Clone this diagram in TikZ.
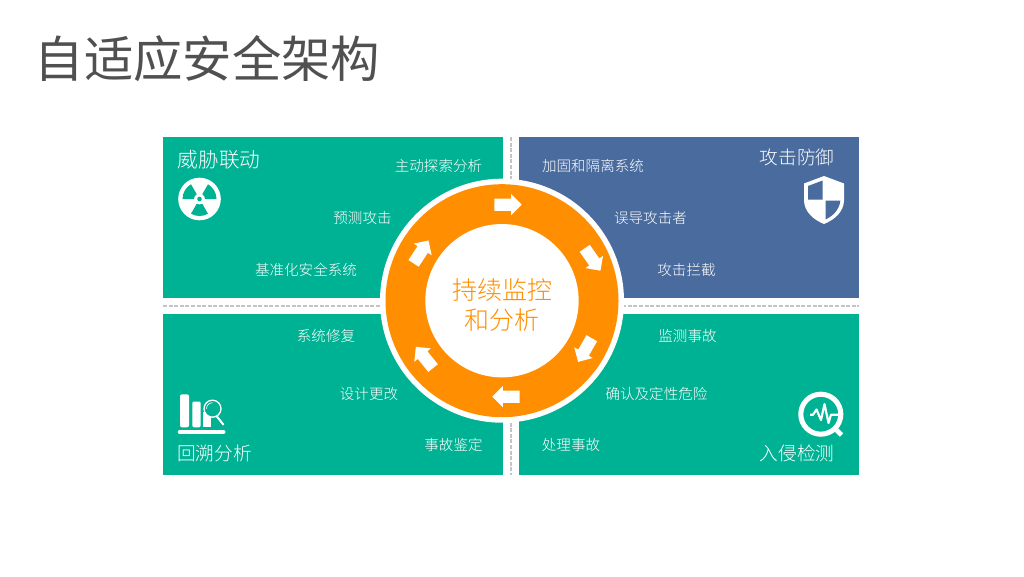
\documentclass[tikz,border=0pt]{standalone}
\usepackage{fontspec}
\usepackage{xcolor,tikz}
\usetikzlibrary{shapes.arrows}
\setmainfont{Noto Sans CJK SC Light}
\newfontfamily\titlefont{Noto Sans CJK SC}
\definecolor{mint}{HTML}{00B294}
\definecolor{slate}{HTML}{4A6B9D}
\definecolor{amber}{HTML}{FF8E00}
\definecolor{ink}{HTML}{505050}
\definecolor{rule}{HTML}{C4C4C4}
\begin{document}
\begin{tikzpicture}[x=0.75pt,y=-0.75pt,
panel/.style={minimum width=255pt,minimum height=120.75pt,inner sep=0pt},
head/.style={text=white,font=\fontsize{14}{16}\selectfont,inner sep=0pt},
item/.style={text=white,font=\fontsize{10.9}{13}\selectfont,inner sep=0pt},
flow/.style={single arrow,fill=white,inner xsep=0pt,inner ysep=4.4pt,minimum height=20.5pt,
single arrow head extend=3.4pt,single arrow tip angle=90,single arrow head indent=0pt},
sep/.style={draw=rule,line width=0.9pt,dash pattern=on 3pt off 1.2pt}]
\useasboundingbox (0,0) rectangle (1024,576);
\fill[white] (0,0) rectangle (1024,576);
\node[text=ink,font=\titlefont\fontsize{37}{40}\selectfont,inner sep=0pt] (title) at (207.5,58.5) {自适应安全架构};
% four panels
\node[panel,fill=mint] (threat) at (333,217.5) {};
\node[panel,fill=slate] (defend) at (689,217.5) {};
\node[panel,fill=mint] (retro) at (333,394.5) {};
\node[panel,fill=mint] (detect) at (688.5,394.5) {};
% dashed cross
\coordinate (west) at (163,306);
\coordinate (east) at (859,306);
\coordinate (north) at (511,137);
\coordinate (south) at (511,475);
\draw[sep] (west)--(east);
\draw[sep] (north)--(south);
% ring
\node[circle,fill=white,minimum size=183pt,inner sep=0pt] (halo) at (502,300.7) {};
\node[circle,fill=amber,minimum size=174.75pt,inner sep=0pt] (ring) at (502,300.7) {};
\node[circle,fill=white,minimum size=115pt,inner sep=0pt] (hub) at (502,300.7) {};
\node[text=amber,align=center,inner sep=0pt,font=\fontsize{18.75}{23}\selectfont] (hubtext) at (502,305) {持续监控\\和分析};
\node[flow] (flowa) at (505,204.7) {};
\node[flow,rotate=-55] (flowb) at (590.8,257) {};
\node[flow,rotate=-120] (flowc) at (586.5,347.4) {};
\node[flow,rotate=180] (flowd) at (509,396.7) {};
\node[flow,rotate=129] (flowe) at (426.4,359.8) {};
\node[flow,rotate=57] (flowf) at (419.4,254.5) {};
% labels
\node[head,font=\fontsize{15.5}{18}\selectfont] (threathead) at (219,159.5) {威胁联动};
\node[item] (threata) at (438.5,165.5) {主动探索分析};
\node[item] (threatb) at (362.5,217.5) {预测攻击};
\node[item] (threatc) at (306,269.5) {基准化安全系统};
\node[head] (defendhead) at (797,157.5) {攻击防御};
\node[item] (defenda) at (593,165.5) {加固和隔离系统};
\node[item] (defendb) at (650.5,217.5) {误导攻击者};
\node[item] (defendc) at (686.5,269.5) {攻击拦截};
\node[head] (retrohead) at (214.5,453) {回溯分析};
\node[item] (retroa) at (326,335.5) {系统修复};
\node[item] (retrob) at (369,393.5) {设计更改};
\node[item] (retroc) at (453.5,444.5) {事故鉴定};
\node[head] (detecthead) at (797,453) {入侵检测};
\node[item] (detecta) at (687.5,335.5) {监测事故};
\node[item] (detectb) at (656.5,394) {确认及定性危险};
\node[item] (detectc) at (571,444.5) {处理事故};
% radiation icon
\begin{scope}[shift={(199.5,199)}]
\fill[white] (0,0) circle (21.3);
\fill[mint] (-60:5.5) -- (-60:17) arc (-60:0:17) -- (0:5.5) arc (0:-60:5.5) -- cycle;
\fill[mint] (-180:5.5) -- (-180:17) arc (-180:-120:17) -- (-120:5.5) arc (-120:-180:5.5) -- cycle;
\fill[mint] (60:5.5) -- (60:17) arc (60:120:17) -- (120:5.5) arc (120:60:5.5) -- cycle;
\fill[mint] (0,0) circle (2.3);
\end{scope}
% shield icon
\fill[white] (824,176)--(844,183.5)--(844,200) .. controls (844,212) and (834,220) .. (824,224)
.. controls (814,220) and (804,212) .. (804,200)--(804,183.5)--cycle;
\fill[slate] (822.7,180.5)--(808,186)--(808,199.5)--(822.7,199.5)--cycle;
\fill[slate] (825.5,200.7)--(840.3,200.7) .. controls (839.5,210) and (832,216.5) .. (825.5,219.5)--cycle;
% bars and lens icon
\fill[white,rounded corners=1.5pt] (180,394.3)--(189,394.3)--(189,427.3)--(180,427.3)--cycle;
\fill[white,rounded corners=1pt] (192.3,401.5)--(200.7,401.5)--(200.7,427.3)--(192.3,427.3)--cycle;
\fill[white] (203.3,412)--(211,412)--(211,427.3)--(203.3,427.3)--cycle;
\draw[white,line width=3pt,line cap=round] (179.7,432)--(223.5,432);
\draw[white,fill=mint,line width=1pt] (212.5,408.7) circle (8.5);
\draw[white,line width=0.5pt] (206.5,408.7) arc (180:270:6);
\draw[white,line width=1.5pt,line cap=round] (216.5,416)--(223.3,424.5);
% pulse lens icon
\draw[white,line width=3.8pt] (820.8,414.2) circle (20);
\draw[white,line width=3.6pt] (836.5,430)--(841.5,435);
\draw[white,line width=1.6pt,line join=round] (810,414.7)--(813,414.7)--(816.5,409.5)--(821,420)--(824.5,404)--(828.5,423)--(831,414.7)--(838,414.7);
\end{tikzpicture}
\end{document}
